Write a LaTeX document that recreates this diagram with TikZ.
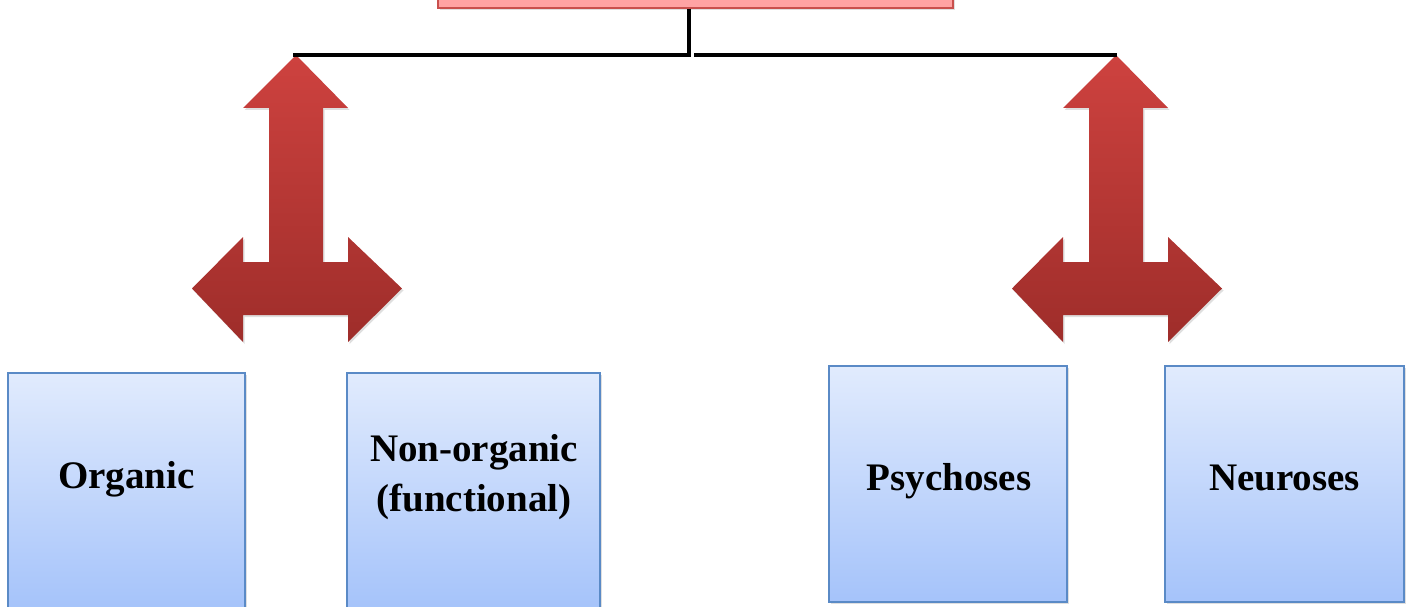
\documentclass[tikz,border=0pt]{standalone}
\usepackage{fontspec}
\setmainfont{Liberation Serif}
\usetikzlibrary{shadows}
\definecolor{boxtop}{HTML}{E1EBFD}
\definecolor{boxbot}{HTML}{A5C3FA}
\definecolor{boxline}{HTML}{5A8AC6}
\definecolor{redtop}{HTML}{CE423F}
\definecolor{redbot}{HTML}{9E2D2A}
\definecolor{pinkfill}{HTML}{FFA3A3}
\definecolor{pinkline}{HTML}{C9504D}
\tikzset{
  bluebox/.style={draw=boxline, line width=1.4pt, top color=boxtop, bottom color=boxbot,
    inner sep=0pt, drop shadow={shadow xshift=1.5pt, shadow yshift=-2pt, opacity=0.25}},
  boxtext/.style={font=\fontsize{39}{50}\selectfont\bfseries, align=center, anchor=base, inner sep=0pt},
  topbox/.style={draw=pinkline, line width=1.4pt, fill=pinkfill, inner sep=0pt,
    drop shadow={shadow xshift=1.5pt, shadow yshift=-2pt, opacity=0.25}},
  conn/.style={line width=4.5pt, black},
  bigarrow/.style={top color=redtop, bottom color=redbot, draw=none,
    drop shadow={shadow xshift=1.5pt, shadow yshift=-2pt, opacity=0.25}}
}
\newcommand{\triarrow}[1]{%
  \path[bigarrow] (#1+0,55) -- (#1+52,108) -- (#1+27,108) -- (#1+27,262) -- (#1+52,262)
    -- (#1+52,237) -- (#1+106,288.5) -- (#1+52,342) -- (#1+52,315) -- (#1-53,315)
    -- (#1-53,342) -- (#1-104,288.5) -- (#1-53,237) -- (#1-53,262) -- (#1-27,262)
    -- (#1-27,108) -- (#1-53,108) -- cycle;}
\begin{document}
\begin{tikzpicture}[x=1pt,y=-1pt]
\useasboundingbox (0,0) rectangle (1416,607);
% top box (mostly off the page)
\node[topbox, minimum width=515pt, minimum height=60pt] (top) at (695.5,-22) {};
% arrows
\triarrow{296}
\triarrow{1116}
\coordinate (ltip) at (293,55);
\coordinate (rtip) at (1117,55);
\coordinate (mid) at (689,55);
\coordinate (midl) at (691,55);
\coordinate (midr) at (694,55);
% connectors
\draw[conn] (top.south -| mid) -- ([yshift=2pt]mid);
\draw[conn] (ltip) -- (midl);
\draw[conn] (midr) -- (rtip);
% boxes
\node[bluebox, minimum width=237pt, minimum height=236pt] (org) at (126.5,491) {};
\node[bluebox, minimum width=253pt, minimum height=236pt] (non) at (473.5,491) {};
\node[bluebox, minimum width=238pt, minimum height=236pt] (psy) at (948,484) {};
\node[bluebox, minimum width=239pt, minimum height=236pt] (neu) at (1284.5,484) {};
% texts
\node[boxtext] (orgt) at (126.5,488) {Organic};
\node[boxtext, anchor=north] (nont) at (474,434) {Non-organic\\(functional)};
\node[boxtext] (psyt) at (949,490) {Psychoses};
\node[boxtext] (neut) at (1284.5,490) {Neuroses};
\end{tikzpicture}
\end{document}
